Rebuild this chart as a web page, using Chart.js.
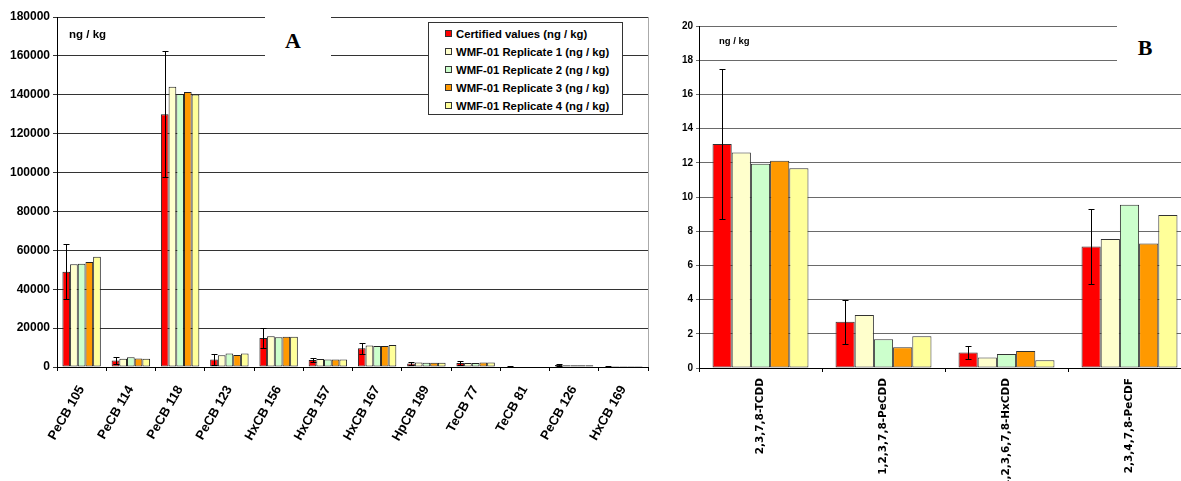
<!DOCTYPE html>
<html>
<head>
<meta charset="utf-8">
<script src="https://cdn.jsdelivr.net/npm/chart.js@4.4.1/dist/chart.umd.min.js"></script>
<style>
  html, body { margin: 0; padding: 0; background: #fff; }
  body { position: relative; width: 1181px; height: 481px; overflow: hidden; font-family: "Liberation Sans", Arial, sans-serif; }
  .panel { position: absolute; top: 0; }
  .tag { position: absolute; background: #fff; }
  .tag span { position: absolute; font-family: "Liberation Serif", "Times New Roman", serif; font-weight: bold; font-size: 22px; line-height: 22px; transform: translate(-50%, -50%); }
  .unit { position: absolute; font-weight: bold; white-space: nowrap; color: #000; }
  #legend { position: absolute; left: 428px; top: 22px; width: 195px; height: 93px; box-sizing: border-box; border: 1px solid #333; background: #fff; }
  #legend .row { position: absolute; left: 0; height: 18px; line-height: 18px; font-size: 11.3px; font-weight: bold; white-space: nowrap; }
  #legend .sw { position: absolute; left: 16px; top: 5px; width: 7px; height: 7px; box-sizing: border-box; border: 1px solid #333; }
  #legend .tx { position: absolute; left: 27px; top: 0; }
</style>
</head>
<body>
<div class="panel" style="left:0;"><canvas id="chartA" width="660" height="481"></canvas></div>
<div class="panel" style="left:660px;"><canvas id="chartB" width="540" height="481"></canvas></div>

<div class="unit" style="left:69px; top:27px; font-size:11.5px; line-height:14px;">ng / kg</div>
<div class="unit" style="left:719px; top:34px; font-size:9.5px; line-height:14px;">ng / kg</div>
<div class="tag" style="left:265px; top:8px; width:66px; height:62px;"><span style="left:28px; top:32.5px;">A</span></div>
<div class="tag" style="left:1117px; top:18px; width:70px; height:62px;"><span style="left:28px; top:29.5px;">B</span></div>
<div id="legend"></div>

<script>
// Series shared by both panels
const seriesLabels = [
  'Certified values (ng / kg)',
  'WMF-01 Replicate 1 (ng / kg)',
  'WMF-01 Replicate 2 (ng / kg)',
  'WMF-01 Replicate 3 (ng / kg)',
  'WMF-01 Replicate 4 (ng / kg)'
];
const seriesColors = ['#ff0000', '#ffffcc', '#ccffcc', '#ff9900', '#ffff99'];

// Panel A: PCB congeners (ng/kg)
const categoriesA = ['PeCB 105', 'PeCB 114', 'PeCB 118', 'PeCB 123', 'HxCB 156', 'HxCB 157',
                     'HxCB 167', 'HpCB 189', 'TeCB 77', 'TeCB 81', 'PeCB 126', 'HxCB 169'];
const certifiedA = [49000, 3400, 130000, 3900, 14900, 3600, 9700, 1800, 2000, 300, 1000, 250];
const certErrA   = [14200, 2000, 32500, 3000, 5000, 1000, 2900, 900, 1000, 100, 400, 150];
const rep1A      = [52800, 4300, 144100, 6000, 15800, 4100, 11000, 2300, 2100, 300, 900, 60];
const rep2A      = [53100, 5000, 140400, 7000, 15300, 3900, 10800, 2200, 2100, 300, 900, 60];
const rep3A      = [54000, 4400, 141400, 6200, 15600, 3900, 10800, 2200, 2300, 300, 900, 60];
const rep4A      = [56700, 4300, 140200, 7000, 15600, 3900, 11300, 2200, 2300, 300, 900, 60];
const yMaxA = 180000, yStepA = 20000;

// Panel B: dioxins / furans (ng/kg)
const categoriesB = ['2,3,7,8-TCDD', '1,2,3,7,8-PeCDD', '1,2,3,6,7,8-HxCDD', '2,3,4,7,8-PeCDF'];
const certifiedB = [13.1, 2.7, 0.9, 7.1];
const certErrB   = [4.4, 1.3, 0.4, 2.2];
const rep1B      = [12.6, 3.1, 0.62, 7.55];
const rep2B      = [11.95, 1.68, 0.82, 9.55];
const rep3B      = [12.12, 1.22, 1.0, 7.28];
const rep4B      = [11.68, 1.85, 0.45, 8.95];
const yMaxB = 20, yStepB = 2;

// Legend (HTML, sits inside panel A)
const legendEl = document.getElementById('legend');
seriesLabels.forEach((label, i) => {
  const row = document.createElement('div');
  row.className = 'row';
  row.style.top = (2 + 18 * i) + 'px';
  row.innerHTML = '<div class="sw" style="background:' + seriesColors[i] + '"></div><div class="tx"></div>';
  row.querySelector('.tx').textContent = label;
  legendEl.appendChild(row);
});

// Error bars on the certified-value series
const errorBars = {
  id: 'errorBars',
  afterDatasetsDraw(chart, args, opts) {
    const meta = chart.getDatasetMeta(0);
    const yScale = chart.scales.y;
    const values = chart.data.datasets[0].data;
    const ctx = chart.ctx;
    const half = opts.cap / 2;
    ctx.save();
    ctx.strokeStyle = '#000';
    ctx.lineWidth = 1;
    opts.errors.forEach((e, i) => {
      const bar = meta.data[i];
      if (!bar || !e) return;
      const x = Math.round(bar.x) + 0.5;
      const yt = Math.round(yScale.getPixelForValue(values[i] + e)) + 0.5;
      const yb = Math.round(yScale.getPixelForValue(Math.max(values[i] - e, 0))) + 0.5;
      ctx.beginPath();
      ctx.moveTo(x, yt); ctx.lineTo(x, yb);
      ctx.moveTo(x - half, yt); ctx.lineTo(x + half, yt);
      ctx.moveTo(x - half, yb); ctx.lineTo(x + half, yb);
      ctx.stroke();
    });
    ctx.restore();
  }
};

// Thin right-hand frame of the plot area
const frameRight = {
  id: 'frameRight',
  beforeDatasetsDraw(chart, args, opts) {
    if (!opts.color) return;
    const { ctx, chartArea } = chart;
    ctx.save();
    ctx.strokeStyle = opts.color;
    ctx.lineWidth = 1;
    ctx.beginPath();
    ctx.moveTo(Math.round(chartArea.right) + 0.5, chartArea.top);
    ctx.lineTo(Math.round(chartArea.right) + 0.5, chartArea.bottom);
    ctx.stroke();
    ctx.restore();
  }
};

function makeDatasets(seriesList, border) {
  return seriesList.map((data, k) => ({
    label: seriesLabels[k],
    data: data,
    backgroundColor: seriesColors[k],
    borderColor: border,
    borderWidth: 1,
    borderSkipped: false,
    categoryPercentage: 0.78,
    barPercentage: 1
  }));
}

const boldSans = (size, family) => ({ family: family || '"Liberation Sans", Arial, sans-serif', weight: 'bold', size: size });

new Chart(document.getElementById('chartA'), {
  type: 'bar',
  data: {
    labels: categoriesA,
    datasets: makeDatasets([certifiedA, rep1A, rep2A, rep3A, rep4A], '#222')
  },
  options: {
    responsive: false,
    animation: false,
    layout: { padding: { left: 0, right: 12, top: 17, bottom: 0 } },
    plugins: {
      legend: { display: false },
      tooltip: { enabled: false },
      errorBars: { errors: certErrA, cap: 6 },
      frameRight: { color: '#aaaaaa' }
    },
    scales: {
      x: {
        grid: { offset: true, drawOnChartArea: false, drawTicks: true, tickLength: 4, color: '#000' },
        border: { color: '#000', width: 1 },
        ticks: { font: boldSans(13), color: '#000', minRotation: 60, maxRotation: 60, autoSkip: false, padding: 12 },
        afterFit(s) { s.height = 114; s.paddingLeft = 0; s.paddingRight = 0; }
      },
      y: {
        min: 0, max: yMaxA,
        grid: { color: '#333', tickLength: 4 },
        border: { color: '#000', width: 1 },
        ticks: { stepSize: yStepA, font: boldSans(12), color: '#000', padding: 3, callback: v => String(v) },
        afterFit(s) { s.width = 57; s.paddingTop = 0; s.paddingBottom = 0; }
      }
    }
  },
  plugins: [errorBars, frameRight]
});

new Chart(document.getElementById('chartB'), {
  type: 'bar',
  data: {
    labels: categoriesB,
    datasets: makeDatasets([certifiedB, rep1B, rep2B, rep3B, rep4B], '#333')
  },
  options: {
    responsive: false,
    animation: false,
    layout: { padding: { left: 0, right: 9, top: 26, bottom: 0 } },
    plugins: {
      legend: { display: false },
      tooltip: { enabled: false },
      errorBars: { errors: certErrB, cap: 6 },
      frameRight: { color: null }
    },
    scales: {
      x: {
        grid: { offset: true, drawOnChartArea: false, drawTicks: true, tickLength: 4, color: '#000' },
        border: { color: '#000', width: 1 },
        ticks: { font: boldSans(10.5, '"DejaVu Sans", sans-serif'), color: '#000', minRotation: 90, maxRotation: 90, autoSkip: false, padding: 6 },
        afterFit(s) { s.height = 113; s.paddingLeft = 0; s.paddingRight = 0; }
      },
      y: {
        min: 0, max: yMaxB,
        grid: { color: '#6a6a6a', tickLength: 3 },
        border: { color: '#000', width: 1 },
        ticks: { stepSize: yStepB, font: boldSans(10), color: '#000', padding: 3, callback: v => String(v) },
        afterFit(s) { s.width = 39; s.paddingTop = 0; s.paddingBottom = 0; }
      }
    }
  },
  plugins: [errorBars, frameRight]
});
</script>
</body>
</html>
